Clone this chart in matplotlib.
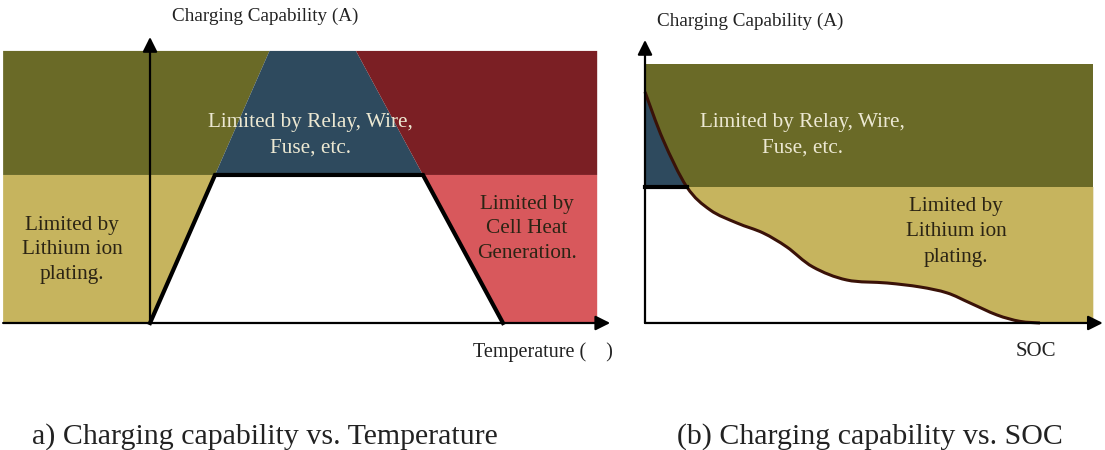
import numpy as np
import matplotlib
matplotlib.use("Agg")
import matplotlib.pyplot as plt
from matplotlib.path import Path
from matplotlib.patches import Polygon, PathPatch

plt.rcParams["font.family"] = ["Liberation Serif", "DejaVu Serif"]

# ---- panel (a): charging capability vs temperature (schematic units) ----
temp_corners = [-30.0, -20.0, 12.0, 24.3]      # trapezoid corner temperatures
cap_corners = [0.0, 100.0, 100.0, 0.0]          # capability at the corners
relay_limit_a = 100.0                           # relay / wire / fuse limit
cap_top_a = 183.8                               # top of shaded region
temp_min, temp_max = -52.6, 38.8                # shaded region extent
temp_axis_end = 40.8
cap_axis_end_a = 193.2

# ---- panel (b): charging capability vs SOC ----
soc = [0.0, 4.6, 10.6, 16.5, 23.3, 29.9, 35.9, 42.5, 51.1, 61.3,
       69.6, 76.5, 82.3, 89.1, 94.9, 100.0]
cap_soc = [169.9, 134.6, 100.0, 83.1, 73.5, 66.2, 55.9, 41.2, 31.6, 29.4,
           26.5, 22.1, 14.7, 5.9, 1.2, 0.0]
relay_limit_b = 100.0
cap_top_b = 190.4
soc_max = 113.5
soc_axis_end = 115.9
cap_axis_end_b = 208.1

C_OLIVE_D = "#6a6a27"
C_OLIVE_L = "#c6b45e"
C_BLUE = "#2e4a5e"
C_RED_D = "#7b1f24"
C_RED_L = "#d8585c"
C_TXT_L = "#ece8d2"
C_TXT_D = "#2b2414"

W, H = 1105, 450
fig = plt.figure(figsize=(W / 100, H / 100), dpi=100)
fig.patch.set_facecolor("white")


def arrow(ax, start, end, lw=1.6):
    ax.annotate("", xy=end, xytext=start,
                arrowprops=dict(arrowstyle="-|>", color="black", lw=lw,
                                mutation_scale=22, shrinkA=0, shrinkB=0))


# ================= panel (a) =================
axa = fig.add_axes([0, 0, 620 / W, 1])
axa.set_xlim(-53.08, 42.31)
axa.set_ylim(-85.8, 218.2)
axa.axis("off")

t0, t1, t2, t3 = temp_corners
# extend slanted edges of the trapezoid up to the top of the region
k_left = (t1 - t0) / (cap_corners[1] - cap_corners[0])
k_right = (t3 - t2) / (cap_corners[2] - cap_corners[3])
tl_top = t0 + k_left * cap_top_a
tr_top = t3 - k_right * cap_top_a

axa.add_patch(Polygon([(temp_min, 0), (temp_min, relay_limit_a), (t1, relay_limit_a), (t0, 0)],
                      closed=True, fc=C_OLIVE_L, ec="none"))
axa.add_patch(Polygon([(temp_min, relay_limit_a), (temp_min, cap_top_a), (tl_top, cap_top_a),
                       (t1, relay_limit_a)], closed=True, fc=C_OLIVE_D, ec="none"))
axa.add_patch(Polygon([(t1, relay_limit_a), (tl_top, cap_top_a), (tr_top, cap_top_a),
                       (t2, relay_limit_a)], closed=True, fc=C_BLUE, ec="none"))
axa.add_patch(Polygon([(t2, relay_limit_a), (tr_top, cap_top_a), (temp_max, cap_top_a),
                       (temp_max, relay_limit_a)], closed=True, fc=C_RED_D, ec="none"))
axa.add_patch(Polygon([(t3, 0), (t2, relay_limit_a), (temp_max, relay_limit_a), (temp_max, 0)],
                      closed=True, fc=C_RED_L, ec="none"))

axa.plot(temp_corners, cap_corners, color="black", lw=3, solid_joinstyle="miter")
arrow(axa, (temp_min, 0), (temp_axis_end, 0))
arrow(axa, (t0, 0), (t0, cap_axis_end_a))

# ================= panel (b) =================
axb = fig.add_axes([620 / W, 0, 485 / W, 1])
axb.set_xlim(-6.33, 116.46)
axb.set_ylim(-93.4, 237.5)
axb.axis("off")

pts = np.column_stack([soc, cap_soc])


def smooth_path(p):
    """Catmull-Rom through the points, expressed as cubic Bezier segments."""
    verts = [tuple(p[0])]
    codes = [Path.MOVETO]
    n = len(p)
    for i in range(n - 1):
        p0 = p[max(i - 1, 0)]
        p1 = p[i]
        p2 = p[i + 1]
        p3 = p[min(i + 2, n - 1)]
        c1 = p1 + (p2 - p0) / 6.0
        c2 = p2 - (p3 - p1) / 6.0
        verts += [tuple(c1), tuple(c2), tuple(p2)]
        codes += [Path.CURVE4] * 3
    return verts, codes


knee = int(np.argmin(np.abs(np.array(cap_soc) - relay_limit_b)))
v_hi, c_hi = smooth_path(pts[:knee + 1])
v_lo, c_lo = smooth_path(pts[knee:])

axb.add_patch(Polygon([(0, relay_limit_b), (0, cap_top_b), (soc_max, cap_top_b),
                       (soc_max, relay_limit_b)], closed=True, fc=C_OLIVE_D, ec="none"))
# blue wedge under the steep part of the curve
vb = [(0, relay_limit_b), (0, cap_soc[0])] + v_hi[1:] + [(0, relay_limit_b)]
cb = [Path.MOVETO, Path.LINETO] + c_hi[1:] + [Path.CLOSEPOLY]
axb.add_patch(PathPatch(Path(vb, cb), fc=C_BLUE, ec="none"))
# plating-limited region above the curve below the relay limit
vl = v_lo + [(soc_max, 0), (soc_max, relay_limit_b), (soc[knee], relay_limit_b)]
cl = c_lo + [Path.LINETO, Path.LINETO, Path.CLOSEPOLY]
axb.add_patch(PathPatch(Path(vl, cl), fc=C_OLIVE_L, ec="none"))

axb.add_patch(PathPatch(Path(*smooth_path(pts)), fc="none", ec="#3a1208", lw=2.2))
axb.plot([0, soc[knee]], [relay_limit_b, relay_limit_b], color="black", lw=3)
arrow(axb, (0, 0), (soc_axis_end, 0))
arrow(axb, (0, 0), (0, cap_axis_end_b))

# ================= text =================
def ftext(x, y, s, **kw):
    fig.text(x / W, 1 - y / H, s, ha="center", va="center", **kw)


ftext(265, 16, "Charging Capability (A)", fontsize=13.8, color="#222222")
ftext(750, 21, "Charging Capability (A)", fontsize=13.8, color="#222222")

ftext(310, 135, "Limited by Relay, Wire,\nFuse, etc.", fontsize=15.3, color=C_TXT_L,
      linespacing=1.45)
ftext(802, 135, "Limited by Relay, Wire,\nFuse, etc.", fontsize=15.3, color=C_TXT_L,
      linespacing=1.45)
ftext(72, 250, "Limited by\nLithium ion\nplating.", fontsize=15.3, color=C_TXT_D,
      linespacing=1.4)
ftext(527, 229, "Limited by\nCell Heat\nGeneration.", fontsize=15.3, color=C_TXT_D,
      linespacing=1.4)
ftext(956, 232, "Limited by\nLithium ion\nplating.", fontsize=15.3, color=C_TXT_D,
      linespacing=1.45)

ftext(543, 352, "Temperature (    )", fontsize=14.5, color="#222222")
ftext(1036, 352, "SOC", fontsize=15, color="#222222")

ftext(265, 437, "a) Charging capability vs. Temperature", fontsize=21.5, color="#222222")
ftext(870, 437, "(b) Charging capability vs. SOC", fontsize=21.5, color="#222222")

fig.savefig("out.png", dpi=100, facecolor="white")
